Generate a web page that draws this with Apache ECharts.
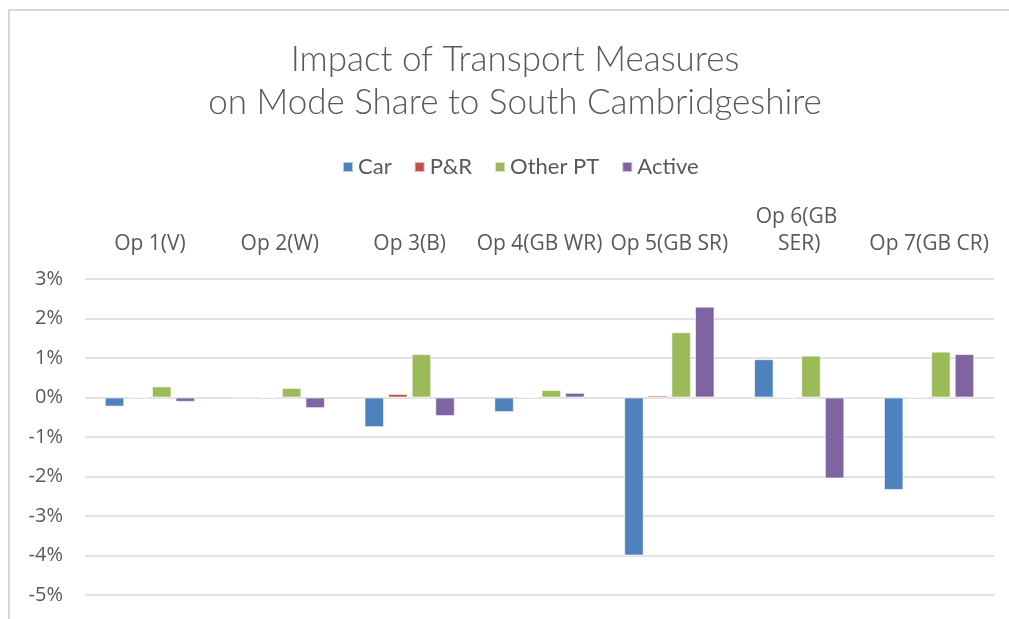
<!DOCTYPE html>
<html>
<head>
<meta charset="utf-8">
<script src="https://cdn.jsdelivr.net/npm/echarts@6/dist/echarts.min.js"></script>
<style>
  html, body { margin: 0; padding: 0; background: #fff; }
  #chart { width: 1009px; height: 619px; }
</style>
</head>
<body>
<div id="chart"></div>
<script>
// options along the x axis
const categories = ['Op 1(V)', 'Op 2(W)', 'Op 3(B)', 'Op 4(GB WR)', 'Op 5(GB SR)', 'Op 6(GB SER)', 'Op 7(GB CR)'];
// change in mode share, percent
const car = [-0.23, -0.04, -0.75, -0.37, -4.0, 0.97, -2.34];
const parkRide = [0, 0, 0.09, 0, 0.05, 0, 0];
const otherPT = [0.28, 0.24, 1.1, 0.19, 1.65, 1.06, 1.16];
const active = [-0.11, -0.27, -0.47, 0.12, 2.3, -2.05, 1.1];

const titleFont = 'Lato, sans-serif';
const labelFont = '"Open Sans", "Noto Sans", sans-serif';
const grey = '#595959';

const chart = echarts.init(document.getElementById('chart'));

function bar(name, data, color) {
    return {
        name: name,
        type: 'bar',
        data: data,
        barWidth: 19.5,
        barGap: '21%',
        itemStyle: { color: color, borderColor: 'rgba(255,255,255,0.6)', borderWidth: 1 }
    };
}

chart.setOption({
    backgroundColor: '#fff',
    animation: false,
    title: {
        text: 'Impact of Transport Measures\non Mode Share to South Cambridgeshire',
        left: 510,
        top: 33,
        textAlign: 'center',
        textStyle: { fontFamily: titleFont, fontSize: 35, fontWeight: 300, color: grey, lineHeight: 43 }
    },
    legend: {
        top: 151,
        left: 337,
        itemWidth: 10,
        itemHeight: 10,
        itemGap: 22,
        icon: 'rect',
        textStyle: { fontFamily: titleFont, fontSize: 22, color: grey },
        data: ['Car', 'P&R', 'Other PT', 'Active']
    },
    grid: { left: 85, right: 15, top: 279, bottom: 24 },
    xAxis: {
        type: 'category',
        position: 'top',
        data: categories,
        axisLine: { show: false },
        axisTick: { show: false },
        axisLabel: {
            interval: 0,
            margin: 21,
            width: 127,
            overflow: 'break',
            fontFamily: labelFont,
            fontSize: 21,
            lineHeight: 27,
            color: grey
        }
    },
    yAxis: {
        type: 'value',
        min: -5,
        max: 3,
        interval: 1,
        axisLine: { show: false },
        axisTick: { show: false },
        axisLabel: {
            formatter: '{value}%',
            margin: 22,
            fontFamily: labelFont,
            fontSize: 20,
            color: grey
        },
        splitLine: { lineStyle: { color: '#d9d9d9', width: 1.5 } }
    },
    graphic: [{
        type: 'rect',
        shape: { x: 9, y: 10, width: 1200, height: 800 },
        style: { fill: 'none', stroke: '#d9d9d9', lineWidth: 2 },
        silent: true
    }],
    series: [
        bar('Car', car, '#4f81bd'),
        bar('P&R', parkRide, '#c0504d'),
        bar('Other PT', otherPT, '#9bbb59'),
        bar('Active', active, '#8064a2')
    ]
});
</script>
</body>
</html>
